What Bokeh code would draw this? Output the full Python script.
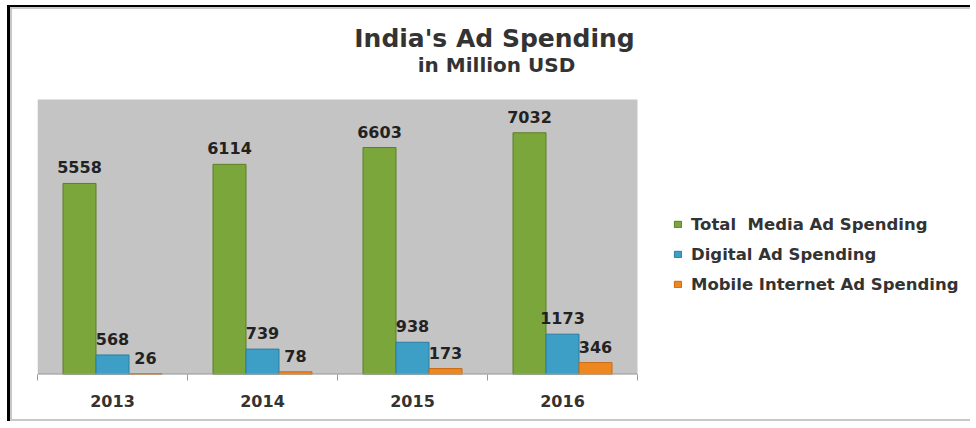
from bokeh.plotting import figure
from bokeh.models import Range1d, FixedTicker, Legend, LegendItem, ColumnDataSource, Label, BoxAnnotation
from bokeh.embed import file_html
from bokeh.resources import INLINE
from bokeh.core.properties import value
from bokeh.transform import dodge

# ---- data ----
years = ["2013", "2014", "2015", "2016"]
total_media = [5558, 6114, 6603, 7032]
digital = [568, 739, 938, 1173]
mobile = [26, 78, 173, 346]
series_labels = ["Total  Media Ad Spending", "Digital Ad Spending", "Mobile Internet Ad Spending"]
title_text = "India's Ad Spending"
subtitle_text = "in Million USD"
value_axis_max = 8000

colors = ["#7aa63b", "#3d9ec6", "#ef8720"]
edge_colors = ["#5b7f26", "#2a7ea3", "#c86a12"]
FONT = "DejaVu Sans"

# layout (pixels)
W, H = 963, 416
LEFT, BOTTOM = 25, 51
CAT_PX = 150          # pixels per category
PLOT_PX = 275         # pixel height of the gray plot area
frame_w = W - LEFT
frame_h = H - BOTTOM

centers = [i + 0.5 for i in range(len(years))]
src = ColumnDataSource(dict(
    x=centers,
    total=total_media, digital=digital, mobile=mobile,
    total_lbl=[str(v) for v in total_media],
    digital_lbl=[str(v) for v in digital],
    mobile_lbl=[str(v) for v in mobile],
))

p = figure(width=W, height=H,
           x_range=Range1d(0, frame_w / CAT_PX),
           y_range=Range1d(0, value_axis_max * frame_h / PLOT_PX),
           output_backend="svg", toolbar_location=None,
           y_axis_location=None,
           min_border_left=LEFT, min_border_right=0,
           min_border_top=0, min_border_bottom=BOTTOM)
p.background_fill_color = "white"
p.border_fill_color = "white"
p.outline_line_color = None
p.xgrid.visible = False
p.ygrid.visible = False

# gray plot area
p.add_layout(BoxAnnotation(left=0, right=len(years), bottom=0, top=value_axis_max,
                           fill_color="#c4c4c4", fill_alpha=1.0, line_color=None,
                           level="underlay"))

bw = 0.22
fields = ["total", "digital", "mobile"]
offsets = [-bw, 0.0, bw]
renderers = []
for f, off, c, ec in zip(fields, offsets, colors, edge_colors):
    r = p.vbar(x=dodge("x", off), top=f, width=bw, source=src,
               fill_color=c, line_color=ec, line_width=1)
    renderers.append(r)
    p.text(x=dodge("x", off), y=f, text=f + "_lbl", source=src,
           text_align="center", text_baseline="alphabetic", y_offset=-16,
           text_font=value(FONT), text_font_style="bold",
           text_font_size="16px", text_color="#222222")

# category axis line
p.segment(x0=[0], y0=[0], x1=[len(years)], y1=[0], line_color="#9a9a9a", line_width=2)

ax = p.xaxis[0]
ax.ticker = FixedTicker(ticks=centers, minor_ticks=list(range(len(years) + 1)))
ax.major_label_overrides = {c: y for c, y in zip(centers, years)}
ax.axis_line_color = None
ax.major_tick_line_color = None
ax.major_tick_out = 0
ax.major_tick_in = 0
ax.minor_tick_in = 0
ax.minor_tick_out = 6
ax.minor_tick_line_color = "#9a9a9a"
ax.major_label_standoff = 14
ax.major_label_text_font = FONT
ax.major_label_text_font_style = "bold"
ax.major_label_text_font_size = "16px"
ax.major_label_text_color = "#333333"

legend = Legend(items=[LegendItem(label=l, renderers=[r]) for l, r in zip(series_labels, renderers)],
                location=(636, 80), glyph_width=9, glyph_height=8,
                label_height=20, spacing=10, padding=0, margin=0,
                label_standoff=9, border_line_color=None, background_fill_alpha=0,
                label_text_font=FONT, label_text_font_style="bold",
                label_text_font_size="16.5px", label_text_color="#333333")
p.add_layout(legend)

p.add_layout(Label(x=457, y=336, x_units="screen", y_units="screen", text=title_text,
                   text_align="center", text_baseline="alphabetic",
                   text_font=FONT, text_font_style="bold", text_font_size="25px",
                   text_color="#333333"))
p.add_layout(Label(x=459, y=310, x_units="screen", y_units="screen", text=subtitle_text,
                   text_align="center", text_baseline="alphabetic",
                   text_font=FONT, text_font_style="bold", text_font_size="20px",
                   text_color="#333333"))

# document frame around the chart
p.styles = {"margin-left": "7px", "margin-top": "5px",
            "border-left": "3px solid black", "border-top": "2px solid black",
            "padding": "2px 0 2px 2px", "background-color": "white",
            "box-shadow": "inset 2px 2px 0 #c8c8c8, inset 0 -2px 0 #c8c8c8"}

open("out.html", "w").write(file_html(p, INLINE))
